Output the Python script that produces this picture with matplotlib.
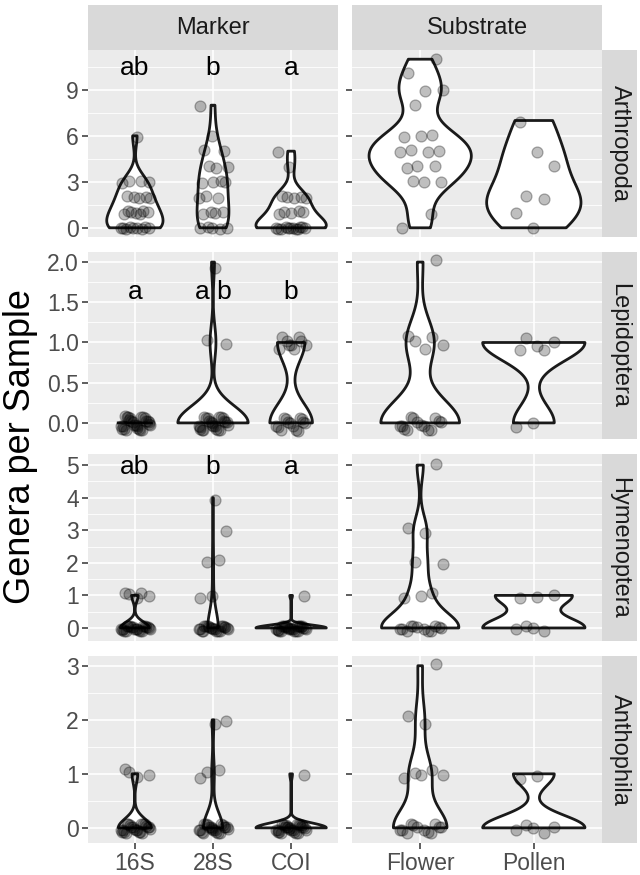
import numpy as np
import matplotlib
matplotlib.use('Agg')
import matplotlib.pyplot as plt

plt.rcParams['font.family'] = ['Liberation Sans', 'DejaVu Sans']

# ---------------- data ----------------
taxa = ['Arthropoda', 'Lepidoptera', 'Hymenoptera', 'Anthophila']
markers = ['16S', '28S', 'COI']
substrates = ['Flower', 'Pollen']

# genera per sample, by marker
arth_16S = [0]*9 + [1]*7 + [2]*5 + [3]*4 + [6]
arth_28S = [0]*5 + [1]*4 + [2]*3 + [3]*4 + [4]*3 + [5]*2 + [6, 8]
arth_COI = [0]*12 + [1]*5 + [2]*5 + [4, 5]
lepi_16S = [0]*27
lepi_28S = [0]*24 + [1]*2 + [2]
lepi_COI = [0]*14 + [1]*9
hyme_16S = [0]*22 + [1]*5
hyme_28S = [0]*21 + [1]*2 + [2]*2 + [3, 4]
hyme_COI = [0]*26 + [1]
anth_16S = [0]*23 + [1]*4
anth_28S = [0]*22 + [1]*3 + [2]*2
anth_COI = [0]*26 + [1]

# genera per sample, by substrate
arth_flower = [0, 1, 3, 3, 3, 4, 4, 4, 5, 5, 5, 5, 6, 6, 6, 8, 9, 9, 10, 11]
arth_pollen = [0, 1, 2, 2, 4, 5, 7]
lepi_flower = [0]*14 + [1]*5 + [2]
lepi_pollen = [0]*2 + [1]*5
hyme_flower = [0]*12 + [1]*3 + [2]*2 + [3]*2 + [5]
hyme_pollen = [0]*4 + [1]*3
anth_flower = [0]*12 + [1]*5 + [2]*2 + [3]
anth_pollen = [0]*5 + [1]*2

marker_data = [[arth_16S, arth_28S, arth_COI],
               [lepi_16S, lepi_28S, lepi_COI],
               [hyme_16S, hyme_28S, hyme_COI],
               [anth_16S, anth_28S, anth_COI]]
substrate_data = [[arth_flower, arth_pollen],
                  [lepi_flower, lepi_pollen],
                  [hyme_flower, hyme_pollen],
                  [anth_flower, anth_pollen]]

# significance letters (marker column)
letters = [['ab', 'b', 'a'], ['a', 'a b', 'b'], ['ab', 'b', 'a'], None]
letter_y = [10.4, 1.63, 4.94, None]

ylims = [(-0.6, 11.6), (-0.2, 2.125), (-0.4, 5.34), (-0.28, 3.18)]
yticks = [[0, 3, 6, 9], [0, 0.5, 1.0, 1.5, 2.0], [0, 1, 2, 3, 4, 5], [0, 1, 2, 3]]
ytick_labels = [['0', '3', '6', '9'], ['0.0', '0.5', '1.0', '1.5', '2.0'],
                ['0', '1', '2', '3', '4', '5'], ['0', '1', '2', '3']]

# ---------------- helpers ----------------
W, H = 640, 875


def rect(x0, x1, ytop, ybot):
    return [x0 / W, 1 - ybot / H, (x1 - x0) / W, (ybot - ytop) / H]


def bw_nrd0(x):
    x = np.asarray(x, float)
    n = len(x)
    hi = np.std(x, ddof=1)
    q75, q25 = np.percentile(x, [75, 25])
    lo = min(hi, (q75 - q25) / 1.34)
    if not lo:
        lo = hi or abs(x[0]) or 1.0
    return 0.9 * lo * n ** -0.2


def density(x):
    x = np.asarray(x, float)
    bw = bw_nrd0(x)
    grid = np.linspace(x.min(), x.max(), 512)
    d = np.exp(-0.5 * ((grid[:, None] - x[None, :]) / bw) ** 2).sum(1)
    d /= len(x) * bw * np.sqrt(2 * np.pi)
    return grid, d


def draw_panel(ax, groups):
    dens = [density(g) for g in groups]
    dmax = max(d.max() for _, d in dens)
    for i, ((grid, d), g) in enumerate(zip(dens, groups)):
        pos = i + 1
        hw = 0.45 * d / dmax
        xs = np.concatenate([pos - hw, (pos + hw)[::-1]])
        ys = np.concatenate([grid, grid[::-1]])
        ax.fill(xs, ys, facecolor='white', edgecolor='#1a1a1a', lw=2.0,
                zorder=3, joinstyle='round')
        g = np.asarray(g, float)
        k = np.arange(len(g))
        jx = ((k * 0.6180339887 + 0.37 * i + 0.11) % 1 - 0.5) * 0.4
        jy = ((k * 0.7548776662 + 0.23 * i + 0.29) % 1 - 0.5) * 0.2
        ax.scatter(pos + jx, g + jy, s=62, facecolor=(0, 0, 0, 0.25),
                   edgecolor=(0, 0, 0, 0.3), lw=0.9, zorder=4)


def style_axes(ax, ncat, r):
    ax.set_facecolor('#EBEBEB')
    for s in ax.spines.values():
        s.set_visible(False)
    ax.set_xlim(0.4, ncat + 0.6)
    ax.set_ylim(*ylims[r])
    ax.set_xticks(range(1, ncat + 1))
    yt = yticks[r]
    ax.set_yticks(yt)
    step = yt[1] - yt[0]
    minors = [v + step / 2 for v in yt] + [yt[0] - step / 2]
    ax.set_yticks([m for m in minors if ylims[r][0] < m < ylims[r][1]], minor=True)
    ax.grid(True, which='major', color='white', lw=1.2, zorder=0)
    ax.grid(True, which='minor', axis='y', color='white', lw=0.6, zorder=0)
    ax.set_axisbelow(True)
    ax.tick_params(which='major', length=4.5, width=1.1, color='#333333',
                   labelsize=16.5, labelcolor='#4D4D4D', pad=2)
    ax.tick_params(which='minor', length=0)


fig = plt.figure(figsize=(W / 100, H / 100), dpi=100)

col_x = [(88, 338), (352, 602)]
row_top = [50, 252, 454, 656]
row_h = 187

for r in range(4):
    yt, yb = row_top[r], row_top[r] + row_h
    axL = fig.add_axes(rect(col_x[0][0], col_x[0][1], yt, yb))
    axR = fig.add_axes(rect(col_x[1][0], col_x[1][1], yt, yb))
    style_axes(axL, 3, r)
    style_axes(axR, 2, r)
    draw_panel(axL, marker_data[r])
    draw_panel(axR, substrate_data[r])
    axL.set_yticklabels(ytick_labels[r])
    axR.tick_params(axis='y', labelleft=False)
    if r < 3:
        axL.tick_params(axis='x', bottom=False, labelbottom=False)
        axR.tick_params(axis='x', bottom=False, labelbottom=False)
    else:
        axL.set_xticklabels(markers)
        axR.set_xticklabels(substrates)
    if letters[r] is not None:
        for i, t in enumerate(letters[r]):
            axL.text(i + 1, letter_y[r], t, ha='center', va='center',
                     fontsize=19, color='black', zorder=5)
    # right strip
    sax = fig.add_axes(rect(602, 637, yt, yb))
    sax.set_facecolor('#D9D9D9')
    sax.set_xticks([]); sax.set_yticks([])
    for s in sax.spines.values():
        s.set_visible(False)
    sax.text(0.5, 0.5, taxa[r], rotation=-90, ha='center', va='center',
             fontsize=17, color='#1A1A1A', transform=sax.transAxes)

# top strips
for (x0, x1), lab in zip(col_x, ['Marker', 'Substrate']):
    sax = fig.add_axes(rect(x0, x1, 5, 50))
    sax.set_facecolor('#D9D9D9')
    sax.set_xticks([]); sax.set_yticks([])
    for s in sax.spines.values():
        s.set_visible(False)
    sax.text(0.5, 0.5, lab, ha='center', va='center', fontsize=17,
             color='#1A1A1A', transform=sax.transAxes)

fig.text(21 / W, 1 - 446.5 / H, 'Genera per Sample', rotation=90,
         ha='center', va='center', fontsize=26, color='black')

fig.savefig('out.png', dpi=100)
